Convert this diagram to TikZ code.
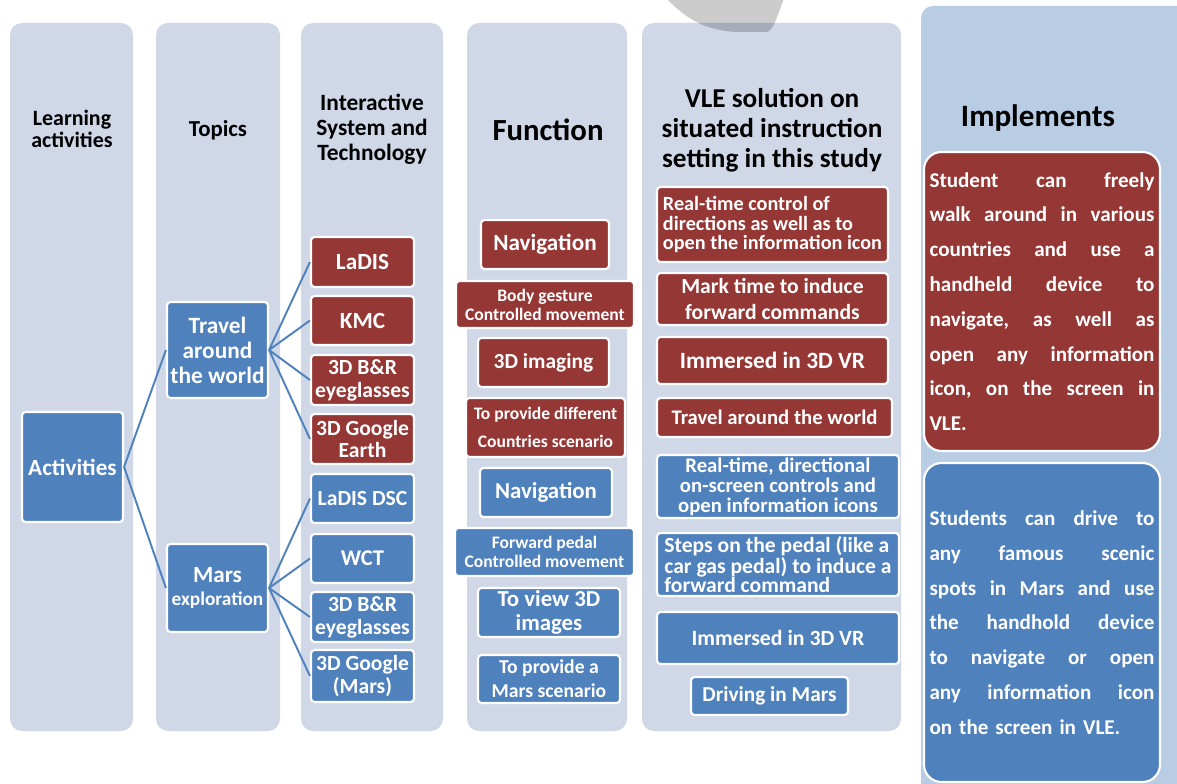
\documentclass[tikz,border=0pt]{standalone}
\usepackage{fontspec}
\setmainfont{Carlito}
\setlength{\parindent}{0pt}
\definecolor{colbg}{RGB}{208,216,232}
\definecolor{impbg}{RGB}{184,204,228}
\definecolor{boxred}{RGB}{149,55,53}
\definecolor{boxblue}{RGB}{79,129,189}
\newcommand{\fs}[2]{\fontsize{#1}{#2}\selectfont}
\newcommand{\jl}[1]{\leavevmode\hbox to 4.5cm{#1}}
\begin{document}
\begin{tikzpicture}[x=0.02cm, y=-0.02cm,
		column/.style={fill=colbg, rounded corners=0.24cm},
		head/.style={align=center, text=black},
		cell/.style n args={4}{at={({(#1+#3)/2},{(#2+#4)/2})}, minimum width={(#3-#1)*0.02cm}, minimum height={(#4-#2)*0.02cm}},
		item/.style={draw=white, line width=1.2pt, rounded corners=0.07cm, inner sep=0pt, text=white},
		redbox/.style={item, fill=boxred},
		bluebox/.style={item, fill=boxblue},
		link/.style={draw=boxblue, line width=1.1pt}]
		\useasboundingbox (0,0) rectangle (1177,784);
		\clip (0,0) rectangle (1177,784);
		% columns
		\fill[column] (10,23) rectangle (133,731);
		\fill[column] (156,23) rectangle (280,731);
		\fill[column] (301,23) rectangle (443,731);
		\fill[column] (467,23) rectangle (627,731);
		\fill[column] (642,23) rectangle (901,731);
		\fill[column, fill=impbg] (921,6) rectangle (1195,800);
		\fill[black, fill opacity=0.2] (666,-2) .. controls (685,18) and (705,31) .. (738,32)
			-- (768,32) .. controls (774,26) .. (784,-2) -- cycle;
		% headings
		\node[head, font=\bfseries\fs{12.5}{12.8}] (hlearn) at (72,129) {Learning\\activities};
		\node[head, font=\bfseries\fs{13}{14}] (htopic) at (218,130) {Topics};
		\node[head, font=\bfseries\fs{13.3}{14.2}] (hsys) at (372,129) {Interactive\\System and\\Technology};
		\node[head, font=\bfseries\fs{17.5}{20}] (hfunc) at (548,130) {Function};
		\node[head, font=\bfseries\fs{15.5}{17}] (hvle) at (772,130) {VLE solution on\\situated instruction\\setting in this study};
		\node[head, font=\bfseries\fs{17.7}{20}] (himp) at (1038,118) {Implements};
		% activities and topics
		\node[bluebox, align=center, font=\bfseries\fs{13.2}{14}, cell={22}{412}{123}{522}] (act) {Activities};
		\node[bluebox, align=center, font=\bfseries\fs{13.3}{14.2}, cell={167}{302}{268}{398}] (travel) {Travel\\around\\the world};
		\node[bluebox, align=center, font=\bfseries\fs{13.2}{13.5}, cell={167}{544}{268}{632}] (mars) {Mars\\{\fs{11}{12}exploration}};
		% interactive system and technology
		\node[redbox, align=center, font=\bfseries\fs{13.2}{14}, cell={311}{237}{414}{287}] (ladis) {LaDIS};
		\node[redbox, align=center, font=\bfseries\fs{13.2}{14}, cell={311}{296}{414}{345}] (kmc) {KMC};
		\node[redbox, align=center, font=\bfseries\fs{12.3}{13}, cell={311}{355}{414}{405}] (brA) {3D B\&R\\eyeglasses};
		\node[redbox, align=center, font=\bfseries\fs{12.3}{13}, cell={311}{414}{414}{464}] (earth) {3D Google\\Earth};
		\node[bluebox, align=center, font=\bfseries\fs{12.3}{13}, cell={311}{474}{414}{523}] (dsc) {LaDIS DSC};
		\node[bluebox, align=center, font=\bfseries\fs{12.8}{13}, cell={311}{534}{414}{583}] (wct) {WCT};
		\node[bluebox, align=center, font=\bfseries\fs{12.3}{13}, cell={311}{592}{414}{642}] (brB) {3D B\&R\\eyeglasses};
		\node[bluebox, align=center, font=\bfseries\fs{12.3}{13}, cell={311}{650}{414}{702}] (gmars) {3D Google\\(Mars)};
		% function
		\node[redbox, align=center, font=\bfseries\fs{13.2}{14}, cell={481}{220}{609}{269}] (navA) {Navigation};
		\node[redbox, align=center, font=\bfseries\fs{10}{10.8}, cell={456}{281}{634}{328}] (gesture) {Body gesture\\Controlled movement};
		\node[redbox, align=center, font=\bfseries\fs{12.2}{13}, cell={478}{338}{609}{387}] (imaging) {3D imaging};
		\node[redbox, align=center, font=\bfseries\fs{10}{15.5}, cell={466}{398}{625}{457}] (countries) {To provide different\\Countries scenario};
		\node[bluebox, align=center, font=\bfseries\fs{13}{14}, cell={480}{468}{612}{517}] (navB) {Navigation};
		\node[bluebox, align=center, font=\bfseries\fs{10}{10.8}, cell={455}{528}{634}{576}] (pedal) {Forward pedal\\Controlled movement};
		\node[bluebox, align=center, font=\bfseries\fs{13}{13.6}, cell={478}{588}{620}{637}] (view) {To view 3D\\images};
		\node[bluebox, align=center, font=\bfseries\fs{11.2}{13.8}, cell={478}{655}{620}{703}] (scene) {To provide a\\Mars scenario};
		% VLE solution
		\node[redbox, align=left, font=\bfseries\fs{11.5}{11}, cell={657}{187}{888}{262}] (ctrl) {Real-time control of\\directions as well as to\\open the information icon};
		\node[redbox, align=center, font=\bfseries\fs{12.3}{14.5}, cell={657}{273}{888}{325}] (mark) {Mark time to induce\\forward commands};
		\node[redbox, align=center, font=\bfseries\fs{13.3}{14}, cell={657}{337}{888}{384}] (vrA) {Immersed in 3D VR};
		\node[redbox, align=center, font=\bfseries\fs{11.8}{13}, cell={657}{398}{892}{437}] (world) {Travel around the world};
		\node[bluebox, align=center, font=\bfseries\fs{11.8}{11.3}, cell={657}{455}{899}{518}] (screen) {Real-time, directional\\on-screen controls and\\open information icons};
		\node[bluebox, align=left, font=\bfseries\fs{12.3}{10.8}, cell={657}{533}{899}{596}] (steps) {Steps on the pedal (like a\\car gas pedal) to induce a\\forward command};
		\node[bluebox, align=center, font=\bfseries\fs{12.4}{13}, cell={657}{612}{899}{664}] (vrB) {Immersed in 3D VR};
		\node[bluebox, align=center, font=\bfseries\fs{12.1}{13}, cell={691}{677}{848}{715}] (drive) {Driving in Mars};
		% implements
		\node[redbox, rounded corners=0.35cm, text width=4.5cm, align=left, font=\bfseries\fs{12}{19.8}, cell={924}{152}{1160}{451}] (impA)
			{\jl{Student\hfill can\hfill freely}\\\jl{walk\hfill around\hfill in\hfill various}\\\jl{countries\hfill and\hfill use\hfill a}\\
			\jl{handheld\hfill device\hfill to}\\\jl{navigate,\hfill as\hfill well\hfill as}\\\jl{open\hfill any\hfill information}\\
			\jl{icon,\hfill on\hfill the\hfill screen\hfill in}\\VLE.};
		\node[bluebox, rounded corners=0.35cm, text width=4.5cm, align=left, font=\bfseries\fs{12}{19.8}, cell={924}{463}{1160}{782}] (impB)
			{\jl{Students\hfill can\hfill drive\hfill to}\\\jl{any\hfill famous\hfill scenic}\\\jl{spots\hfill in\hfill Mars\hfill and\hfill use}\\
			\jl{the\hfill handhold\hfill device}\\\jl{to\hfill navigate\hfill or\hfill open}\\\jl{any\hfill information\hfill icon}\\
			on the screen in VLE.};
		% tree links
		\draw[link] (act.east) -- (travel.west);
		\draw[link] (act.east) -- (mars.west);
		\foreach \t in {ladis, kmc, brA, earth}
			\draw[link] (travel.east) -- (\t.west);
		\foreach \t in {dsc, wct, brB, gmars}
			\draw[link] (mars.east) -- (\t.west);
	\end{tikzpicture}
\end{document}
